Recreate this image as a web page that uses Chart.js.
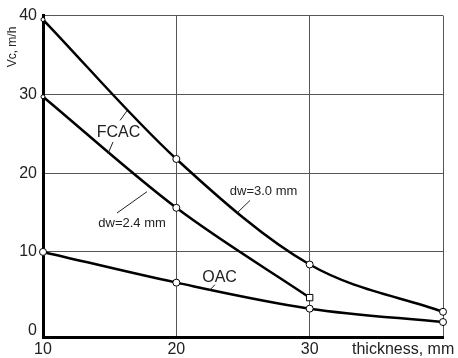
<!DOCTYPE html>
<html lang="en">
<head>
  <meta charset="UTF-8">
  <title>Vc vs thickness</title>
  <script src="https://cdn.jsdelivr.net/npm/chart.js"></script>
  <style>
    body {
      margin: 0;
      background: #fff;
    }
    .wrap {
      width: 458px;
      height: 358px;
    }
  </style>
</head>
<body>
  <div class="wrap"><canvas id="chart"></canvas></div>

  <script>
    // values
    const thickness = [10, 20, 30, 40];
    const fcac30 = [39.5, 21.8, 8.4, 2.4];   // FCAC, dw=3.0 mm
    const fcac24 = [29.7, 15.6, 4.2];        // FCAC, dw=2.4 mm
    const oac = [10, 6.1, 2.8, 1.1];         // OAC
    const xTicks = [10, 20, 30, 40];
    const yTicks = [0, 10, 20, 30, 40];

    // callouts: text, where it sits, and its leader line (data units)
    const notes = [
      { text: 'FCAC', x: 15.66, y: 25.1, size: 16, lines: [[15.78, 26.7, 16.3, 27.9], [15.25, 23.95, 14.88, 22.5]] },
      { text: 'dw=3.0 mm', x: 26.54, y: 17.7, size: 13, lines: [[25.53, 16.54, 24.55, 14.94]] },
      { text: 'dw=2.4 mm', x: 16.68, y: 13.6, size: 13, lines: [[17.8, 17.65, 15.55, 14.94]] },
      { text: 'OAC', x: 23.24, y: 6.8, size: 16, lines: [[22.9, 5.84, 22.45, 5.06]] }
    ];

    const FONT = "'Liberation Sans', Arial, sans-serif";
    const pts = (ys) => ys.map((v, i) => ({ x: thickness[i], y: v }));

    const series = {
      borderColor: '#000',
      borderWidth: 2.5,
      pointBackgroundColor: '#fff',
      pointBorderColor: '#000',
      pointBorderWidth: 1,
      cubicInterpolationMode: 'monotone',
      fill: false,
      clip: false
    };

    const notesPlugin = {
      id: 'notes',
      afterDatasetsDraw(chart) {
        const { ctx, scales: { x, y } } = chart;
        ctx.save();
        ctx.strokeStyle = '#222';
        ctx.lineWidth = 1;
        ctx.fillStyle = '#222';
        ctx.textAlign = 'center';
        ctx.textBaseline = 'middle';
        notes.forEach(n => {
          n.lines.forEach(l => {
            ctx.beginPath();
            ctx.moveTo(x.getPixelForValue(l[0]), y.getPixelForValue(l[1]));
            ctx.lineTo(x.getPixelForValue(l[2]), y.getPixelForValue(l[3]));
            ctx.stroke();
          });
          ctx.font = n.size + 'px ' + FONT;
          ctx.fillText(n.text, x.getPixelForValue(n.x), y.getPixelForValue(n.y));
        });

        // axis names
        ctx.font = '16px ' + FONT;
        ctx.textAlign = 'left';
        ctx.fillText('thickness, mm', 352, 350);
        ctx.translate(13, 47);
        ctx.rotate(-Math.PI / 2);
        ctx.textAlign = 'center';
        ctx.font = '12px ' + FONT;
        ctx.fillText('Vc, m/h', 0, 0);
        ctx.restore();
      }
    };

    new Chart(document.getElementById('chart'), {
      type: 'line',
      data: {
        datasets: [
          Object.assign({ label: 'FCAC dw=3.0 mm', data: pts(fcac30), pointRadius: [2, 3.5, 3.5, 3.5] }, series),
          Object.assign({ label: 'FCAC dw=2.4 mm', data: pts(fcac24), pointRadius: [2, 3.5, 4.5],
            pointStyle: ['circle', 'circle', 'rect'] }, series),
          Object.assign({ label: 'OAC', data: pts(oac), pointRadius: 3.5 }, series)
        ]
      },
      options: {
        responsive: true,
        maintainAspectRatio: false,
        animation: false,
        layout: { padding: { top: 14, right: 15, left: 0, bottom: 0 } },
        plugins: {
          legend: { display: false },
          tooltip: { enabled: false }
        },
        scales: {
          x: {
            type: 'linear',
            min: 10,
            max: 40,
            afterBuildTicks: s => { s.ticks = xTicks.map(v => ({ value: v })); },
            afterFit: s => { s.height = 21; },
            grid: { color: '#555', lineWidth: 1, drawTicks: false },
            border: { color: '#000', width: 3 },
            ticks: {
              padding: 3,
              color: '#222',
              font: { family: FONT, size: 16 },
              maxRotation: 0,
              callback: v => (v === 40 ? '' : v)
            }
          },
          y: {
            min: -0.8,
            max: 40,
            afterBuildTicks: s => { s.ticks = yTicks.map(v => ({ value: v })); },
            afterFit: s => { s.width = 43; },
            grid: {
              color: c => (c.tick && c.tick.value === 0 ? 'rgba(0,0,0,0)' : '#555'),
              lineWidth: 1,
              drawTicks: false
            },
            border: { color: '#000', width: 3 },
            ticks: {
              padding: 6,
              color: '#222',
              font: { family: FONT, size: 16 }
            }
          }
        }
      },
      plugins: [notesPlugin]
    });
  </script>
</body>
</html>
